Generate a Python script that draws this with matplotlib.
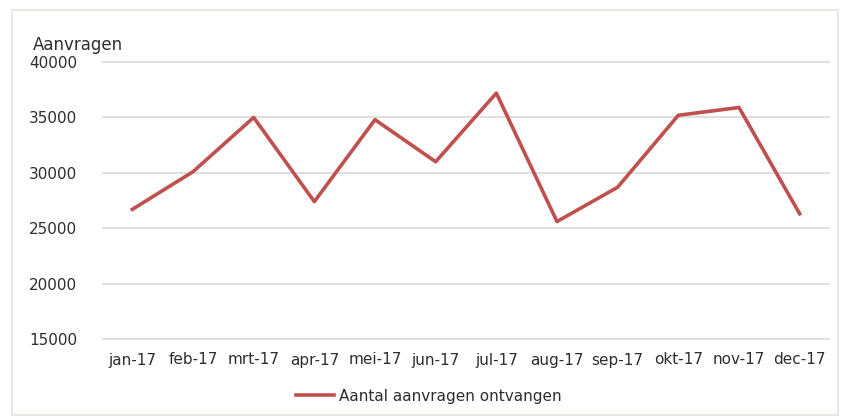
import matplotlib.pyplot as plt
from matplotlib.patches import Rectangle

months = ['jan-17', 'feb-17', 'mrt-17', 'apr-17', 'mei-17', 'jun-17',
          'jul-17', 'aug-17', 'sep-17', 'okt-17', 'nov-17', 'dec-17']
aanvragen = [26700, 30100, 35000, 27400, 34800, 31000,
             37200, 25600, 28700, 35200, 35900, 26300]
yticks = [15000, 20000, 25000, 30000, 35000, 40000]

plt.rcParams['font.family'] = ['DejaVu Sans']

fig = plt.figure(figsize=(8.43, 4.19), dpi=100)
fig.patches.append(Rectangle((12 / 843, 4 / 419), 826 / 843, 405 / 419,
                             transform=fig.transFigure, fill=False,
                             edgecolor='#e4e4dc', linewidth=1.2))

ax = fig.add_axes([102 / 843, 1 - 340 / 419, 728 / 843, 279 / 419])
x = list(range(len(months)))
ax.plot(x, aanvragen, color='#c0504d', linewidth=2.6,
        label='Aantal aanvragen ontvangen')

ax.set_xlim(-0.5, len(months) - 0.5)
ax.set_ylim(14900, 40100)
ax.set_yticks(yticks)
ax.set_yticklabels([str(v) for v in yticks])
ax.set_xticks(x)
ax.set_xticklabels(months)
ax.grid(axis='y', color='#d9d9d9', linewidth=1.2)
ax.set_axisbelow(True)
for s in ax.spines.values():
    s.set_visible(False)
ax.tick_params(length=0, labelsize=11, colors='#2e2e2e')
ax.tick_params(axis='y', pad=18)
ax.tick_params(axis='x', pad=9)

fig.text(33 / 843, 1 - 45 / 419, 'Aanvragen', fontsize=12, color='#2e2e2e',
         va='center', ha='left')

fig.legend(loc='center', bbox_to_anchor=(429 / 843, 1 - 396 / 419),
           frameon=False, fontsize=11, labelcolor='#2e2e2e',
           handlelength=2.5, handletextpad=0.3)

fig.savefig('out.png', dpi=100)
